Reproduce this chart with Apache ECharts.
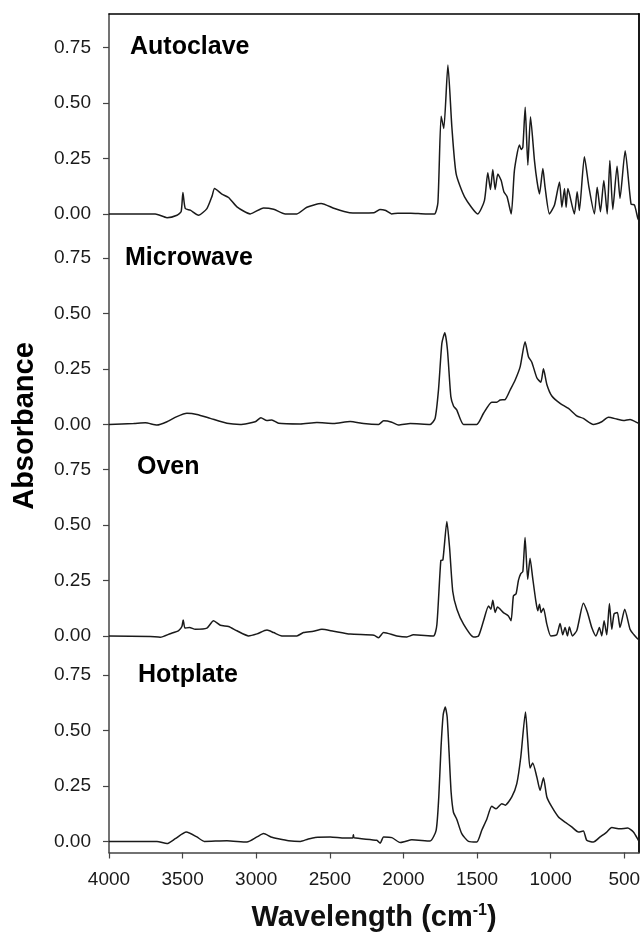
<!DOCTYPE html>
<html>
<head>
<meta charset="utf-8">
<script src="https://cdn.jsdelivr.net/npm/echarts@6/dist/echarts.min.js"></script>
<style>
  html, body { margin: 0; padding: 0; background: #fff; }
  #chart { width: 642px; height: 940px; }
</style>
</head>
<body>
<div id="chart"></div>
<script>
// FTIR spectra, [wavenumber cm-1, absorbance]
const autoclave = [
  [4000, 0], [3686, 0], [3606, -0.017], [3538, -0.006], [3510, 0.01], [3498, 0.096], [3482, 0.024],
  [3448, 0.017], [3392, -0.006], [3335, 0.024], [3300, 0.08], [3283, 0.114], [3233, 0.089],
  [3188, 0.074], [3131, 0.032], [3041, 0], [2950, 0.027], [2882, 0.021], [2803, 0], [2724, 0],
  [2656, 0.03], [2559, 0.047], [2468, 0.024], [2366, 0.005], [2300, 0.004], [2200, 0.005],
  [2160, 0.02], [2120, 0.015], [2080, 0], [2038, 0.003], [1950, 0.003], [1850, 0], [1789, 0],
  [1766, 0.05], [1744, 0.44], [1726, 0.385], [1698, 0.67], [1671, 0.39], [1642, 0.18],
  [1585, 0.077], [1495, 0], [1450, 0.06], [1427, 0.185], [1409, 0.11], [1393, 0.2], [1377, 0.11],
  [1359, 0.18], [1336, 0.15], [1318, 0.1], [1296, 0.077], [1268, 0], [1246, 0.197], [1212, 0.31],
  [1200, 0.29], [1189, 0.3], [1173, 0.48], [1155, 0.22], [1137, 0.437], [1110, 0.24],
  [1092, 0.144], [1076, 0.09], [1053, 0.204], [1038, 0.12], [1008, 0], [974, 0.04], [940, 0.144],
  [924, 0.03], [906, 0.114], [895, 0.03], [883, 0.114], [839, 0], [820, 0.1], [805, 0.015],
  [771, 0.257], [740, 0.12], [703, 0], [684, 0.12], [662, 0.01], [639, 0.15], [616, 0],
  [598, 0.24], [578, 0.02], [549, 0.215], [529, 0.07], [494, 0.284], [454, 0.044], [431, 0.04],
  [408, -0.02], [400, -0.03]
];
const microwave = [
  [4000, 0], [3833, 0.004], [3753, 0.007], [3674, -0.003], [3606, 0.012], [3539, 0.035],
  [3471, 0.05], [3403, 0.045], [3312, 0.027], [3199, 0.005], [3109, 0], [3007, 0.012],
  [2968, 0.03], [2928, 0.017], [2894, 0.02], [2848, 0.005], [2701, 0.002], [2588, 0.008],
  [2475, 0.004], [2362, 0.013], [2271, 0.004], [2169, 0], [2135, 0.016], [2079, 0.01],
  [2034, -0.003], [1954, 0.004], [1819, 0], [1785, 0.027], [1762, 0.155], [1739, 0.365],
  [1719, 0.413], [1701, 0.335], [1678, 0.125], [1660, 0.083], [1638, 0.065], [1592, 0],
  [1502, 0], [1456, 0.05], [1400, 0.1], [1366, 0.1], [1343, 0.11], [1309, 0.112], [1275, 0.155],
  [1241, 0.2], [1207, 0.26], [1174, 0.372], [1151, 0.305], [1128, 0.28], [1094, 0.21],
  [1067, 0.19], [1049, 0.25], [1026, 0.18], [992, 0.128], [936, 0.095], [879, 0.072],
  [823, 0.038], [778, 0.027], [710, 0], [653, 0.012], [608, 0.032], [551, 0.024], [506, 0.017],
  [461, 0.022], [404, 0.005], [400, 0.003]
];
const oven = [
  [4000, 0], [3720, -0.003], [3652, -0.006], [3584, 0.01], [3527, 0.024], [3505, 0.042],
  [3496, 0.072], [3484, 0.035], [3453, 0.038], [3414, 0.03], [3335, 0.035], [3290, 0.068],
  [3244, 0.048], [3188, 0.042], [3131, 0.023], [3052, 0], [2995, 0.009], [2927, 0.026],
  [2882, 0.015], [2826, 0], [2724, 0], [2679, 0.015], [2611, 0.021], [2554, 0.03], [2475, 0.021],
  [2362, 0.008], [2200, 0.003], [2169, -0.008], [2135, 0.015], [2045, 0], [1977, -0.005],
  [1932, 0.005], [1796, 0], [1773, 0.05], [1746, 0.34], [1732, 0.342], [1705, 0.515],
  [1687, 0.4], [1665, 0.2], [1637, 0.12], [1592, 0.053], [1524, -0.005], [1490, 0],
  [1456, 0.068], [1422, 0.135], [1406, 0.12], [1393, 0.16], [1377, 0.105], [1361, 0.13],
  [1321, 0.105], [1287, 0.09], [1269, 0.068], [1253, 0.18], [1235, 0.19], [1219, 0.25],
  [1203, 0.28], [1189, 0.29], [1174, 0.443], [1156, 0.255], [1140, 0.35], [1122, 0.26],
  [1101, 0.158], [1088, 0.113], [1076, 0.143], [1065, 0.105], [1049, 0.125], [1026, 0.053],
  [999, 0], [959, 0.005], [936, 0.056], [918, 0.005], [902, 0.038], [886, 0], [873, 0.04],
  [852, 0], [823, 0.023], [812, 0.053], [778, 0.147], [750, 0.105], [721, 0.038], [692, 0],
  [669, 0.038], [653, 0], [637, 0.068], [619, 0.005], [601, 0.146], [585, 0.03], [569, 0.1],
  [547, 0.105], [529, 0.038], [497, 0.12], [461, 0.03], [438, 0.008], [404, -0.015], [400, -0.015]
];
const hotplate = [
  [4000, 0], [3674, 0], [3606, -0.01], [3550, 0.012], [3475, 0.042], [3403, 0.02], [3353, 0],
  [3199, 0.003], [3063, -0.003], [2995, 0.02], [2950, 0.035], [2900, 0.02], [2850, 0.012],
  [2780, 0.003], [2700, 0], [2650, 0.01], [2600, 0.018], [2497, 0.02], [2400, 0.015],
  [2345, 0.015], [2340, 0.03], [2335, 0.016], [2181, 0.005], [2158, -0.008], [2135, 0.02],
  [2079, 0.017], [2022, -0.005], [1988, 0], [1943, 0.007], [1819, 0.002], [1778, 0.05],
  [1760, 0.2], [1745, 0.42], [1730, 0.57], [1716, 0.605], [1703, 0.56], [1690, 0.4],
  [1676, 0.22], [1660, 0.13], [1638, 0.1], [1604, 0.035], [1558, 0], [1502, -0.003],
  [1468, 0.05], [1434, 0.1], [1400, 0.158], [1371, 0.147], [1332, 0.17], [1309, 0.163],
  [1264, 0.2], [1230, 0.26], [1203, 0.38], [1171, 0.583], [1156, 0.455], [1140, 0.33],
  [1122, 0.353], [1094, 0.29], [1072, 0.23], [1049, 0.287], [1026, 0.2], [992, 0.155],
  [947, 0.11], [902, 0.087], [857, 0.065], [811, 0.042], [778, 0.047], [755, 0.005],
  [710, -0.003], [664, 0.02], [619, 0.042], [585, 0.062], [529, 0.057], [477, 0.06],
  [438, 0.042], [404, 0.005], [400, 0]
];

const panelNames = ['Autoclave', 'Microwave', 'Oven', 'Hotplate'];
const panelData = [autoclave, microwave, oven, hotplate];
const xTicks = [4000, 3500, 3000, 2500, 2000, 1500, 1000, 500];
const yTicks = [0, 0.25, 0.5, 0.75];

const FONT = '"Liberation Sans", Arial, sans-serif';
const gridLeft = 109;
const gridWidth = 530;
const gridTops = [14, 224.5, 436, 641.5];
const gridHeight = 211;
const frameTop = 14;
const frameHeight = 838.5;
const labelPos = [[130, 47], [125, 258], [137, 467], [138, 675]];

const chart = echarts.init(document.getElementById('chart'));

const grids = gridTops.map(top => ({
  left: gridLeft, top: top, width: gridWidth, height: gridHeight,
  outerBoundsMode: 'none', containLabel: false
}));
// whole plot area, only used for the frame lines
grids.push({
  left: gridLeft, top: frameTop, width: gridWidth, height: frameHeight,
  outerBoundsMode: 'none', containLabel: false
});
const frameGrid = grids.length - 1;

const xAxes = gridTops.map((t, i) => {
  const last = i === gridTops.length - 1;
  return {
    type: 'value', gridIndex: i, min: 400, max: 4000, inverse: true,
    splitLine: { show: false },
    axisLine: { show: last, onZero: false, lineStyle: { color: '#444', width: 1.5 } },
    axisTick: { show: last, customValues: xTicks, length: 6, lineStyle: { color: '#444', width: 1.2 } },
    axisLabel: {
      show: last, customValues: xTicks, margin: 18,
      color: '#1a1a1a', fontSize: 19, fontFamily: FONT,
      formatter: v => String(v)
    },
    name: last ? 'Wavelength (cm{sup|-1})' : '',
    nameLocation: 'middle',
    nameGap: 50,
    nameTextStyle: {
      color: '#111', fontSize: 29, fontWeight: 'bold', fontFamily: FONT,
      rich: {
        sup: { fontSize: 16, fontWeight: 'bold', fontFamily: FONT, color: '#111', verticalAlign: 'top', padding: [0, 0, 14, 0] }
      }
    }
  };
});
xAxes.push({
  type: 'value', gridIndex: frameGrid, position: 'top', min: 400, max: 4000, inverse: true,
  splitLine: { show: false }, axisTick: { show: false }, axisLabel: { show: false },
  axisLine: { show: true, onZero: false, lineStyle: { color: '#000', width: 1.5 } }
});

const yAxes = gridTops.map((t, i) => ({
  type: 'value', gridIndex: i, min: -0.05, max: 0.9,
  splitLine: { show: false },
  axisLine: { show: false },
  axisTick: { show: true, customValues: yTicks, length: 6, lineStyle: { color: '#444', width: 1.2 } },
  axisLabel: {
    customValues: yTicks, margin: 18,
    color: '#1a1a1a', fontSize: 19, fontFamily: FONT,
    formatter: v => v.toFixed(2)
  }
}));
yAxes.push({
  type: 'value', gridIndex: frameGrid, position: 'left', min: 0, max: 1,
  splitLine: { show: false }, axisTick: { show: false }, axisLabel: { show: false },
  axisLine: { show: true, onZero: false, lineStyle: { color: '#444', width: 1.5 } }
});
yAxes.push({
  type: 'value', gridIndex: frameGrid, position: 'right', min: 0, max: 1,
  splitLine: { show: false }, axisTick: { show: false }, axisLabel: { show: false },
  axisLine: { show: true, onZero: false, lineStyle: { color: '#000', width: 1.8 } }
});

const series = panelData.map((d, i) => ({
  name: panelNames[i],
  type: 'line',
  xAxisIndex: i,
  yAxisIndex: i,
  data: d,
  showSymbol: false,
  smooth: 0.2,
  lineStyle: { color: '#1a1a1a', width: 1.5 },
  clip: true
}));

const graphic = panelNames.map((name, i) => ({
  type: 'text',
  x: labelPos[i][0],
  y: labelPos[i][1],
  style: {
    text: name, align: 'left', verticalAlign: 'middle',
    fill: '#000', fontSize: 25, fontWeight: 'bold', fontFamily: FONT
  }
}));
graphic.push({
  type: 'text',
  x: 25, y: 426,
  rotation: Math.PI / 2,
  style: {
    text: 'Absorbance', align: 'center', verticalAlign: 'middle',
    fill: '#000', fontSize: 29, fontWeight: 'bold', fontFamily: FONT
  }
});

chart.setOption({
  animation: false,
  backgroundColor: '#fff',
  grid: grids,
  xAxis: xAxes,
  yAxis: yAxes,
  series: series,
  graphic: graphic
});
</script>
</body>
</html>
